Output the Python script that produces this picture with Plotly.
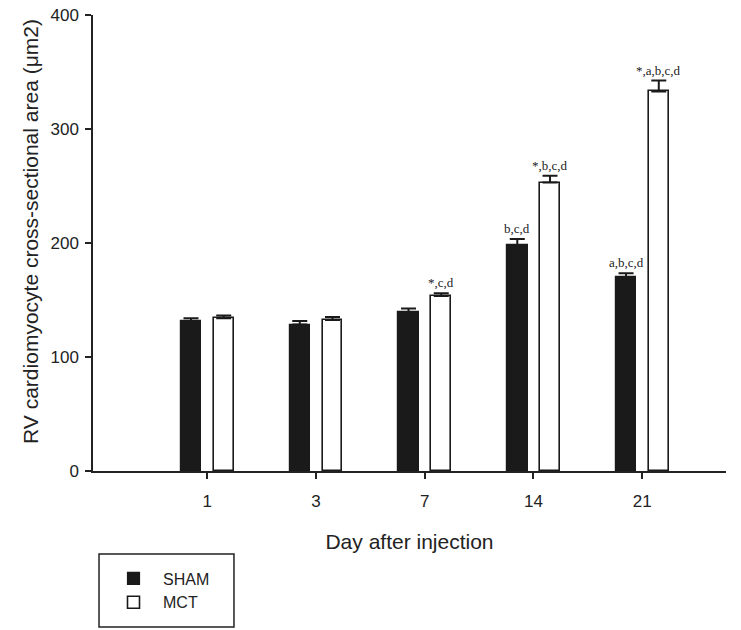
import plotly.graph_objects as go

days = ["1", "3", "7", "14", "21"]
sham_mean = [131.5, 128.5, 139.5, 198, 170]
sham_err = [2.5, 3, 3, 5.5, 3.5]
mct_mean = [134, 132.5, 153.5, 253, 333]
mct_err = [2.5, 2.5, 2.5, 6, 9.5]
sham_labels = ["", "", "", "b,c,d", "a,b,c,d"]
mct_labels = ["", "", "*,c,d", "*,b,c,d", "*,a,b,c,d"]
y_title = "RV cardiomyocyte cross-sectional area (μm2)"
x_title = "Day after injection"

xpos = list(range(len(days)))
sham_off, sham_w = -0.243, 0.188
mct_off, mct_w = 0.062, 0.18

W, H = 741, 630
L, R, T, B = 93, 15, 15, 159
fig = go.Figure()
fig.add_trace(go.Bar(
    name="SHAM", x=xpos, y=sham_mean, offset=sham_off, width=sham_w,
    legendgroup="a",
    marker=dict(color="#1a1a1a", line=dict(color="#1a1a1a", width=1.2)),
    error_y=dict(type="data", array=sham_err, arrayminus=[0]*5, symmetric=False,
                 color="#1a1a1a", thickness=2, width=7.5),
))
fig.add_trace(go.Bar(
    name="MCT", x=xpos, y=mct_mean, offset=mct_off, width=mct_w,
    legendgroup="b",
    marker=dict(color="white", line=dict(color="#1a1a1a", width=1.6)),
    error_y=dict(type="data", array=mct_err, arrayminus=[0]*5, symmetric=False,
                 color="#1a1a1a", thickness=2, width=7.5),
))

for i in xpos:
    if sham_labels[i]:
        fig.add_annotation(x=i + sham_off + sham_w / 2, y=sham_mean[i] + sham_err[i],
                           text=sham_labels[i], showarrow=False, yanchor="bottom", yshift=1,
                           font=dict(family="Liberation Serif, serif", size=13, color="#222"))
    if mct_labels[i]:
        fig.add_annotation(x=i + mct_off + mct_w / 2, y=mct_mean[i] + mct_err[i],
                           text=mct_labels[i], showarrow=False, yanchor="bottom", yshift=1,
                           font=dict(family="Liberation Serif, serif", size=13, color="#222"))

# y-axis title
fig.add_annotation(x=-0.099, y=0.525, xref="paper", yref="paper", text=y_title,
                   textangle=-90, showarrow=False, xanchor="center", yanchor="middle",
                   font=dict(size=21, color="#222"))

# legend frame
fig.add_shape(type="rect", xref="paper", yref="paper",
              x0=0.0095, x1=0.2227, y0=-0.342, y1=-0.182,
              line=dict(color="#222", width=1.5), fillcolor="white", layer="below")

fig.update_layout(
    width=W, height=H,
    margin=dict(l=L, r=R, t=T, b=B, autoexpand=False),
    plot_bgcolor="white", paper_bgcolor="white",
    font=dict(family="Liberation Sans, Arial, sans-serif", color="#222", size=17),
    showlegend=True,
    legend=dict(x=104 / W, y=1 - 561.5 / H, xref="container", yref="container",
                xanchor="left", yanchor="top",
                borderwidth=0, bgcolor="rgba(0,0,0,0)",
                font=dict(size=16), traceorder="normal",
                itemwidth=49, tracegroupgap=4),
    bargap=0,
)
fig.update_xaxes(
    range=[-1.05, 4.77], tickvals=xpos, ticktext=days,
    showline=True, linecolor="#222", linewidth=1.5,
    ticks="outside", ticklen=6, tickcolor="#222", tickwidth=1.5,
    ticklabelstandoff=8,
    showgrid=False, zeroline=False,
    title=dict(text=x_title, font=dict(size=21), standoff=24),
)
fig.update_yaxes(
    range=[0, 400], tickvals=[0, 100, 200, 300, 400],
    showline=True, linecolor="#222", linewidth=1.5,
    ticks="outside", ticklen=6, tickcolor="#222", tickwidth=1.5,
    ticklabelstandoff=3,
    showgrid=False, zeroline=False,
)

fig.write_html("out.html", config={"displayModeBar": False},
               post_script="document.body.style.margin='0';")
